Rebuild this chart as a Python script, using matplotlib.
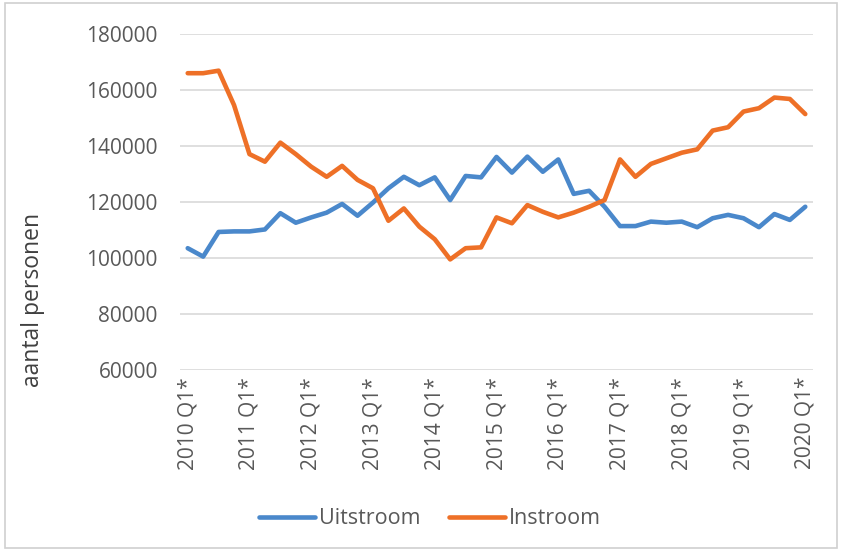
import matplotlib.pyplot as plt
from matplotlib.patches import Rectangle

# kwartalen 2010 Q1 .. 2020 Q1
quarters = [f"{y} Q{q}*" for y in range(2010, 2021) for q in range(1, 5)][:41]

uitstroom = [103500, 100500, 109300, 109500, 109500, 110200, 116000, 112600,
             114500, 116200, 119300, 115100, 119800, 124900, 129000, 126000,
             128800, 120700, 129300, 128800, 136100, 130500, 136200, 130800,
             135200, 122900, 124000, 118300, 111400, 111400, 113000, 112600,
             113000, 111000, 114200, 115400, 114200, 111000, 115700, 113600,
             118300]

instroom = [166000, 166000, 166900, 154600, 137100, 134400, 141200, 137100,
            132600, 129000, 132900, 127900, 124900, 113300, 117700, 111200,
            106700, 99500, 103500, 103800, 114500, 112400, 118900, 116500,
            114500, 116200, 118300, 120700, 135200, 129000, 133600, 135600,
            137600, 138800, 145500, 146700, 152300, 153500, 157300, 156800,
            151400]

yticks = [60000, 80000, 100000, 120000, 140000, 160000, 180000]

plt.rcParams['font.family'] = ['Open Sans', 'DejaVu Sans']
grey = '#595959'

fig = plt.figure(figsize=(8.43, 5.52), dpi=100)
ax = fig.add_axes([180/843, 1 - 370/552, 633/843, 336/552])

x = list(range(len(quarters)))
ax.plot(x, uitstroom, color='#4a88cb', lw=3.3, label='Uitstroom',
        solid_joinstyle='round', solid_capstyle='round')
ax.plot(x, instroom, color='#ee7027', lw=3.3, label='Instroom',
        solid_joinstyle='round', solid_capstyle='round')

ax.set_xlim(-0.5, len(quarters) - 0.5)
ax.set_ylim(60000, 180000)
ax.set_yticks(yticks)
ax.set_yticklabels([str(v) for v in yticks], fontsize=15, color=grey)
ax.set_xticks(x[::4])
ax.set_xticklabels(quarters[::4], rotation=90, fontsize=15, color=grey,
                   va='top', ha='center')
ax.tick_params(axis='x', length=0, pad=5)
ax.tick_params(axis='y', length=0, pad=16)
ax.grid(axis='y', color='#d9d9d9', lw=1.2)
ax.set_axisbelow(True)
for s in ax.spines.values():
    s.set_visible(False)

fig.text(33/843, 1 - 300/552, 'aantal personen', rotation=90, fontsize=16.5,
         color='#404040', ha='center', va='center')

fig.legend(loc='center', bbox_to_anchor=(430/843, 1 - 519/552), ncol=2,
           frameon=False, fontsize=15.5, handlelength=2.6, handletextpad=0.2,
           columnspacing=1.3, labelcolor=grey)

fig.patches.append(Rectangle((5/843, 4/552), 832/843, 545/552, transform=fig.transFigure,
                             fill=False, edgecolor='#d0d0d0', lw=1.2))

fig.savefig('out.png', dpi=100)
